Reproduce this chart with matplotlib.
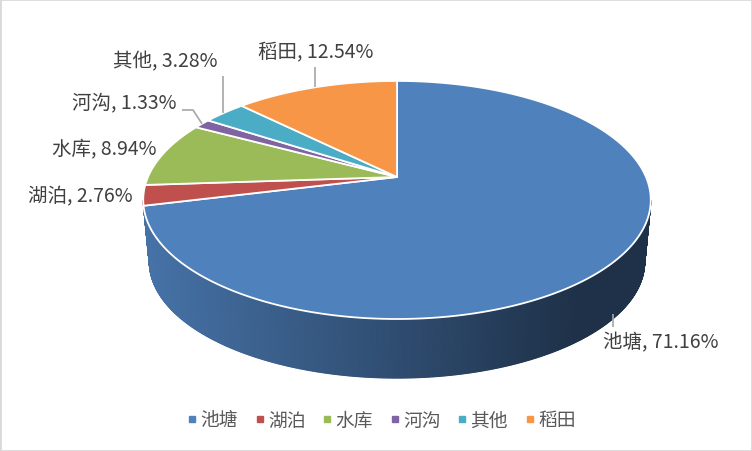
import numpy as np
import matplotlib
matplotlib.use("Agg")
import matplotlib.pyplot as plt
from matplotlib.patches import Polygon, Rectangle
from matplotlib.lines import Line2D
from matplotlib.colors import to_rgb

plt.rcParams['font.family'] = ['Noto Sans CJK SC', 'DejaVu Sans']

# data
categories = ["池塘", "湖泊", "水库", "河沟", "其他", "稻田"]
shares = [71.16, 2.76, 8.94, 1.33, 3.28, 12.54]
colors = ["#4F81BD", "#C0504D", "#9BBB59", "#8064A2", "#4BACC6", "#F79646"]

# layout of the 3d pie (pixels)
CX, CY = 397, 178          # apex of the top face
A, B, K = 249, 114.6, 0.193  # top face scale and perspective
A2, B2, DEPTH = 243, 111.9, 62.4

# label centres and where the leader line meets the label (None = no leader)
label_pos = [(661, 343), (80, 197), (104, 150), (124, 104), (165, 62), (316, 53)]
leader_end = [(613, 328), None, None, [(193, 111), (182, 111)], (223, 77), (315, 68)]


def proj(theta, top=True):
    c, s = np.cos(theta), np.sin(theta)
    d = 1 + K * s
    u, v = c / d, s / d
    if top:
        return CX + A * u, CY - B * v
    return CX + A2 * u, CY + DEPTH - B2 * v


# slice angles, clockwise from 12 o'clock
fr = np.array(shares) / sum(shares)
ends = np.pi / 2 - 2 * np.pi * np.cumsum(fr)
starts = np.concatenate([[np.pi / 2], ends[:-1]])

fig = plt.figure(figsize=(7.52, 4.52), dpi=100)
ax = fig.add_axes([0, 0, 1, 1])
ax.set_xlim(0, 752)
ax.set_ylim(452, 0)
ax.axis('off')


def slice_of(th):
    # map angle to slice index
    a = (np.pi / 2 - th) % (2 * np.pi)
    return int(np.searchsorted(np.cumsum(fr) * 2 * np.pi, a))


# side wall (front half only)
th_lo = -np.pi + np.arcsin(K)
th_hi = -np.arcsin(K)
ths = np.linspace(th_lo, th_hi, 600)
for t0, t1 in zip(ths[:-1], ths[1:]):
    tm = 0.5 * (t0 + t1)
    i = min(slice_of(tm), len(shares) - 1)
    xm, _ = proj(tm)
    f = np.clip(0.88 - 0.50 * (xm - 150) / 430, 0.38, 0.88)
    col = np.array(to_rgb(colors[i])) * f
    pts = [proj(t0), proj(t1), proj(t1, False), proj(t0, False)]
    ax.add_patch(Polygon(pts, closed=True, facecolor=col, edgecolor=col, lw=0.8))

# top face
for s0, s1, c in zip(starts, ends, colors):
    t = np.linspace(s0, s1, 200)
    xs, ys = proj(t)
    pts = [(CX, CY)] + list(zip(xs, ys))
    ax.add_patch(Polygon(pts, closed=True, facecolor=c, edgecolor="white", lw=1.3, joinstyle='round'))

# labels and leader lines
for i, (cat, v) in enumerate(zip(categories, shares)):
    mid = 0.5 * (starts[i] + ends[i])
    ax.text(label_pos[i][0], label_pos[i][1], f"{cat}, {v:.2f}%", ha='center', va='center',
            fontsize=14, color="#404040", fontweight='light')
    le = leader_end[i]
    if le is None:
        continue
    if i == 0:
        ax_, ay_ = proj(mid, False)
    else:
        ax_, ay_ = proj(mid)
    if isinstance(le, list):
        xs = [ax_] + [p[0] for p in le]
        ys = [ay_] + [p[1] for p in le]
    else:
        xs = [le[0], le[0]]
        ys = [ay_ - 4 if i == 0 else ay_, le[1]]
    ax.plot(xs, ys, color="#A6A6A6", lw=1.2, solid_capstyle='butt')

# legend
handles = [Line2D([], [], marker='s', linestyle='', color=c, markersize=5) for c in colors]
fig.legend(handles, categories, ncol=6, frameon=False, loc='center',
           bbox_to_anchor=(380 / 752, 1 - 421 / 452),
           prop={'size': 13.5, 'weight': 'light'},
           handletextpad=0.05, columnspacing=0.75, handlelength=0.8, labelcolor="#595959")

# chart border
fig.patches.append(Rectangle((0, 0), 1, 1, transform=fig.transFigure, fill=False,
                             edgecolor="#D9D9D9", lw=2))

fig.savefig("out.png", dpi=100)
